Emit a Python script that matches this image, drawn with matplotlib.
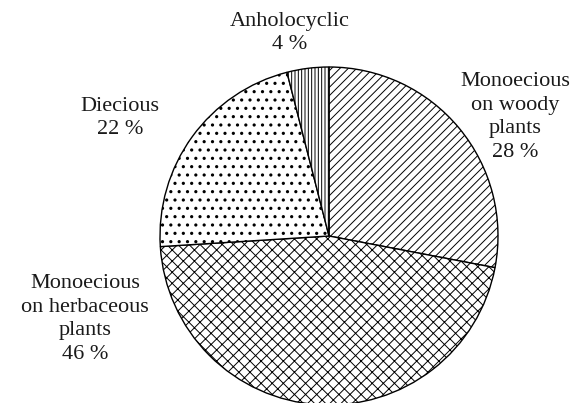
import matplotlib
matplotlib.use("Agg")
import matplotlib.pyplot as plt

categories = ["Monoecious\non woody\nplants", "Monoecious\non herbaceous\nplants", "Diecious", "Anholocyclic"]
values = [28, 46, 22, 4]
pct_labels = ["28 %", "46 %", "22 %", "4 %"]
hatches = ["////", "xxx", "..", "|||||"]
hatch_lw = [0.7, 0.7, 1.1, 0.7]

plt.rcParams['font.family'] = ['Liberation Serif', 'DejaVu Serif']
plt.rcParams['hatch.linewidth'] = 0.7
plt.rcParams['hatch.color'] = 'black'

W, H = 576, 403
fig = plt.figure(figsize=(W/100, H/100), dpi=100)
cx, cy, r = 329, 236, 169
ax = fig.add_axes([(cx - r)/W, (H - cy - r)/H, 2*r/W, 2*r/H])
wedges, _ = ax.pie(values, startangle=90, counterclock=False, radius=1,
                   colors=['white']*4,
                   wedgeprops=dict(edgecolor='black', linewidth=1.0))
for w, h, lw in zip(wedges, hatches, hatch_lw):
    w.set_hatch(h)
    if hasattr(w, 'set_hatch_linewidth'):
        w.set_hatch_linewidth(lw)
ax.set_xlim(-1, 1)
ax.set_ylim(-1, 1)
ax.set_aspect('equal')
ax.axis('off')

# label positions in pixels (center of text block)
label_pos = [(515, 117), (85, 319), (120, 118), (290, 33)]
fs = 16
for cat, pct, (px, py) in zip(categories, pct_labels, label_pos):
    fig.text(px/W, 1 - py/H, cat + "\n" + pct, ha='center', va='center',
             fontsize=fs, linespacing=1.35, color='#1a1a1a')

fig.savefig("out.png", dpi=100)
